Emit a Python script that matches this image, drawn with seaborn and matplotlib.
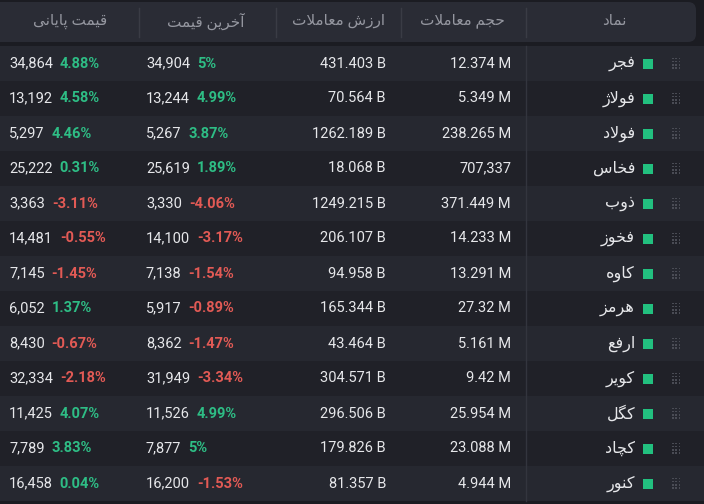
import numpy as np
import matplotlib.pyplot as plt
import seaborn as sns
from matplotlib.patches import Rectangle, FancyBboxPatch
from matplotlib.colors import ListedColormap

symbols = ["فجر", "فولاژ", "فولاد", "فخاس", "ذوب", "فخوز", "کاوه", "هرمز", "ارفع", "کویر", "کگل", "کچاد", "کنور"]
volume = ["12.374 M", "5.349 M", "238.265 M", "707,337", "371.449 M", "14.233 M", "13.291 M",
          "27.32 M", "5.161 M", "9.42 M", "25.954 M", "23.088 M", "4.944 M"]
value = ["431.403 B", "70.564 B", "1262.189 B", "18.068 B", "1249.215 B", "206.107 B", "94.958 B",
         "165.344 B", "43.464 B", "304.571 B", "296.506 B", "179.826 B", "81.357 B"]
last_price = ["34,904", "13,244", "5,267", "25,619", "3,330", "14,100", "7,138",
              "5,917", "8,362", "31,949", "11,526", "7,877", "16,200"]
last_pct = [5, 4.99, 3.87, 1.89, -4.06, -3.17, -1.54, -0.89, -1.47, -3.34, 4.99, 5, -1.53]
close_price = ["34,864", "13,192", "5,297", "25,222", "3,363", "14,481", "7,145",
               "6,052", "8,430", "32,334", "11,425", "7,789", "16,458"]
close_pct = [4.88, 4.58, 4.46, 0.31, -3.11, -0.55, -1.45, 1.37, -0.67, -2.18, 4.07, 3.83, 0.04]
headers = ["قیمت پایانی", "آخرین قیمت", "ارزش معاملات", "حجم معاملات", "نماد"]

# minimal Persian shaping: (isolated, final, initial, medial)
FORMS = {
    "ا": (0xFE8D, 0xFE8E, None, None), "آ": (0xFE81, 0xFE82, None, None),
    "ب": (0xFE8F, 0xFE90, 0xFE91, 0xFE92), "پ": (0xFB56, 0xFB57, 0xFB58, 0xFB59),
    "ت": (0xFE95, 0xFE96, 0xFE97, 0xFE98), "ج": (0xFE9D, 0xFE9E, 0xFE9F, 0xFEA0),
    "چ": (0xFB7A, 0xFB7B, 0xFB7C, 0xFB7D), "ح": (0xFEA1, 0xFEA2, 0xFEA3, 0xFEA4),
    "خ": (0xFEA5, 0xFEA6, 0xFEA7, 0xFEA8), "د": (0xFEA9, 0xFEAA, None, None),
    "ذ": (0xFEAB, 0xFEAC, None, None), "ر": (0xFEAD, 0xFEAE, None, None),
    "ز": (0xFEAF, 0xFEB0, None, None), "ژ": (0xFB8A, 0xFB8B, None, None),
    "س": (0xFEB1, 0xFEB2, 0xFEB3, 0xFEB4), "ش": (0xFEB5, 0xFEB6, 0xFEB7, 0xFEB8),
    "ع": (0xFEC9, 0xFECA, 0xFECB, 0xFECC), "ف": (0xFED1, 0xFED2, 0xFED3, 0xFED4),
    "ق": (0xFED5, 0xFED6, 0xFED7, 0xFED8), "ک": (0xFB8E, 0xFB8F, 0xFB90, 0xFB91),
    "گ": (0xFB92, 0xFB93, 0xFB94, 0xFB95), "ل": (0xFEDD, 0xFEDE, 0xFEDF, 0xFEE0),
    "م": (0xFEE1, 0xFEE2, 0xFEE3, 0xFEE4), "ن": (0xFEE5, 0xFEE6, 0xFEE7, 0xFEE8),
    "ه": (0xFEE9, 0xFEEA, 0xFEEB, 0xFEEC), "و": (0xFEED, 0xFEEE, None, None),
    "ی": (0xFBFC, 0xFBFD, 0xFBFE, 0xFBFF),
}


def shape(word):
    out = []
    chars = list(word)
    i = 0
    while i < len(chars):
        c = chars[i]
        if c not in FORMS:
            out.append(c)
            i += 1
            continue
        prev = chars[i - 1] if i > 0 else None
        joins_prev = prev in FORMS and FORMS[prev][2] is not None
        if c == "ل" and i + 1 < len(chars) and chars[i + 1] == "ا":
            out.append(chr(0xFEFC if joins_prev else 0xFEFB))
            i += 2
            continue
        nxt = chars[i + 1] if i + 1 < len(chars) else None
        joins_next = FORMS[c][2] is not None and nxt in FORMS
        iso, fin, ini, med = FORMS[c]
        if joins_prev and joins_next:
            f = med
        elif joins_prev:
            f = fin
        elif joins_next:
            f = ini
        else:
            f = iso
        out.append(chr(f))
        i += 1
    return "".join(out)


def rtl(text):
    return " ".join(shape(w) for w in text.split(" "))[::-1]


W, H = 704, 504
BG = "#1b1c22"
ROW_A, ROW_B = "#262830", "#202128"
WHITE, GRAY = "#e6e7ea", "#9597a0"
GREEN, RED = "#2ebd85", "#e25a55"
FONT = ["Roboto", "DejaVu Sans"]
top, rh = 46, 35
n = len(symbols)

fig = plt.figure(figsize=(W / 100, H / 100), dpi=100, facecolor=BG)

# alternating row backgrounds via seaborn heatmap
hax = fig.add_axes([0, 1 - (top + n * rh) / H, 1, n * rh / H])
stripes = np.array([[i % 2] for i in range(n)])
sns.heatmap(stripes, ax=hax, cmap=ListedColormap([ROW_A, ROW_B]), cbar=False,
            xticklabels=False, yticklabels=False)
hax.axis("off")

ax = fig.add_axes([0, 0, 1, 1])
ax.set_xlim(0, W)
ax.set_ylim(H, 0)
ax.axis("off")
ax.patch.set_alpha(0)

# header
ax.add_patch(FancyBboxPatch((-20, 2), W + 12, top - 6, boxstyle="round,pad=0,rounding_size=8",
                            fc="#2a2c35", ec="none"))
for xs in [139, 276, 401, 526]:
    ax.plot([xs, xs], [8, 37], color="#3a3c45", lw=1)
ax.plot([526, 526], [top, top + n * rh], color="#33353e", lw=1)
for xc, h in zip([70, 206, 339, 462, 614], headers):
    ax.text(xc, 21, rtl(h), color=GRAY, fontsize=11, ha="center", va="center", family=FONT)


def pct_text(p):
    return f"{p:g}%"


for i in range(n):
    y = top + rh * i + rh / 2
    ax.text(635, y, rtl(symbols[i]), color=WHITE, fontsize=11.5, ha="right", va="center",
            family=FONT)
    ax.add_patch(Rectangle((643, y - 5), 10, 10, fc="#22c07f", ec="none"))
    for dx in range(3):
        for dy in range(4):
            ax.add_patch(Rectangle((672 + dx * 3.3, y - 6 + dy * 3.3), 1.6, 1.6, fc="#4a4c55", ec="none"))
    ax.text(511, y, volume[i], color=WHITE, fontsize=10.5, ha="right", va="center", family=FONT)
    ax.text(386, y, value[i], color=WHITE, fontsize=10.5, ha="right", va="center", family=FONT)
    for x0, num, p in [(146, last_price[i], last_pct[i]), (9, close_price[i], close_pct[i])]:
        t = ax.text(x0, y, num, color=WHITE, fontsize=10.5, ha="left", va="center", family=FONT)
        ax.annotate(pct_text(p), xy=(1, 0.5), xycoords=t, xytext=(5, 0), textcoords="offset points",
                    color=GREEN if p >= 0 else RED, fontsize=10.5, ha="left", va="center",
                    family=FONT, fontweight="bold")

fig.savefig("out.png", dpi=100, facecolor=BG)
